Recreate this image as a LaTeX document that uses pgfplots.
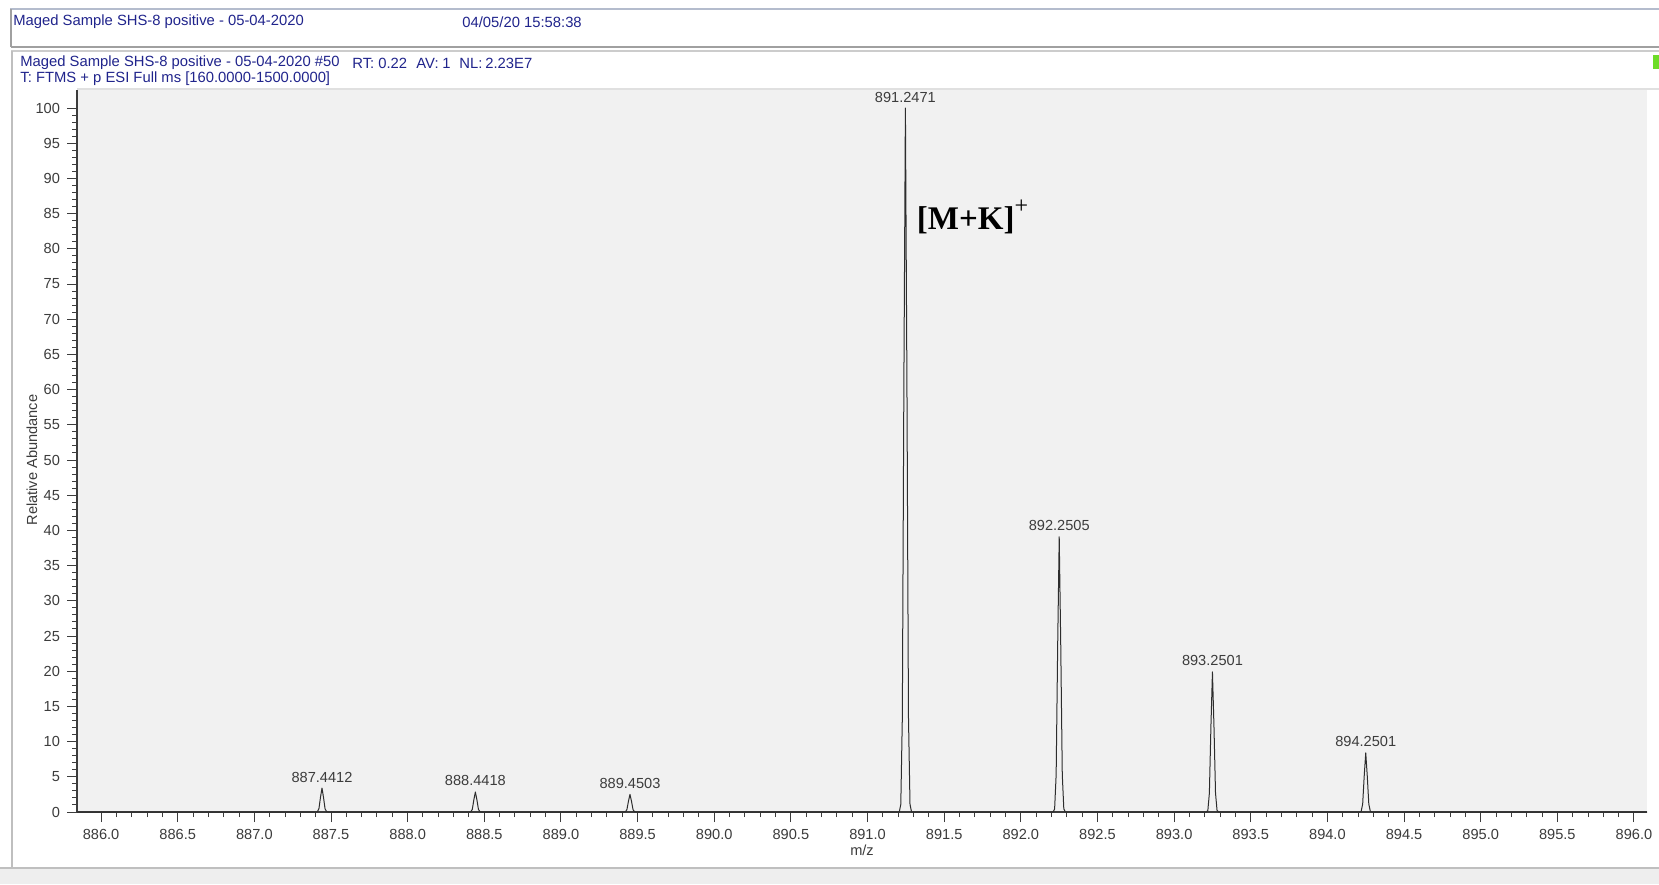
\documentclass[border=0pt]{standalone}
\usepackage{fontspec}
\setmainfont{Liberation Sans}
\newfontfamily\timesb{Liberation Serif}
\usepackage{pgfplots}
\pgfplotsset{compat=1.18}
\definecolor{navy}{RGB}{32,36,140}
\definecolor{tickgray}{RGB}{60,60,60}
\definecolor{plotbg}{RGB}{241,241,241}
\definecolor{framegray}{RGB}{160,160,160}
\definecolor{peakcol}{RGB}{45,45,45}
\definecolor{winbg}{RGB}{238,238,238}
\definecolor{greenmark}{RGB}{110,220,40}
\definecolor{topline}{RGB}{180,188,205}

\pgfplotstableread{
x y
885.843 0
887.4012 0
887.4112 0.04
887.4212 0.46
887.4312 2.06
887.4412 3.4
887.4512 2.06
887.4612 0.46
887.4712 0.04
887.4812 0
888.4018 0
888.4118 0.03
888.4218 0.38
888.4318 1.73
888.4418 2.85
888.4518 1.73
888.4618 0.38
888.4718 0.03
888.4818 0
889.4103 0
889.4203 0.03
889.4303 0.34
889.4403 1.52
889.4503 2.5
889.4603 1.52
889.4703 0.34
889.4803 0.03
889.4903 0
891.2071 0
891.2171 1.1
891.2271 13.5
891.2371 60.7
891.2471 100
891.2571 60.7
891.2671 13.5
891.2771 1.1
891.2871 0
892.2105 0
892.2205 0.43
892.2305 5.3
892.2405 23.7
892.2505 39.1
892.2605 23.7
892.2705 5.3
892.2805 0.43
892.2905 0
893.2101 0
893.2201 0.22
893.2301 2.69
893.2401 12.1
893.2501 19.9
893.2601 12.1
893.2701 2.69
893.2801 0.22
893.2901 0
894.2101 0
894.2201 0.09
894.2301 1.13
894.2401 5.1
894.2501 8.4
894.2601 5.1
894.2701 1.13
894.2801 0.09
894.2901 0
896.085 0
}\spectrum

\begin{document}
\begin{tikzpicture}
\begin{scope}[x=0.5pt,y=-0.5pt]
\path[use as bounding box] (0,0) rectangle (1659,884);
\fill[white] (0,0) rectangle (1659,884);
\draw[topline, line width=1pt] (10,9) -- (1659,9);
\draw[framegray, line width=0.6pt] (11,9) -- (11,47);
\draw[framegray, line width=1pt] (11,47) -- (1659,47);
\draw[black!20, line width=1pt] (11,51) -- (1659,51);
\draw[black!25, line width=1pt] (12,51) -- (12,868);
\draw[black!12, line width=0.6pt] (77,89) -- (1659,89);
\fill[winbg] (0,869) rectangle (1659,884);
\draw[black!25, line width=1pt] (0,868) -- (1659,868);
\fill[greenmark] (1653,55) rectangle (1659,69);
\begin{scope}[every node/.style={anchor=west, inner sep=0pt, text=navy, font=\fontsize{7.4}{9}\selectfont}]
\node at (13,22) {Maged Sample SHS-8 positive - 05-04-2020};
\node at (462,22) {04/05/20 15:58:38};
\node at (20,63) {Maged Sample SHS-8 positive - 05-04-2020 \#50};
\node at (352,63) {RT:};
\node at (378,63) {0.22};
\node at (416,63) {AV:};
\node at (442,63) {1};
\node at (459,63) {NL:};
\node at (485,63) {2.23E7};
\node at (20,79) {T: FTMS + p ESI Full ms [160.0000-1500.0000]};
\end{scope}
\end{scope}

\begin{axis}[
  at={(38.5pt,-406pt)}, anchor=south west,
  width=785pt, height=361pt, scale only axis,
  xmin=885.843, xmax=896.085, ymin=0, ymax=102.56,
  axis x line*=bottom, axis y line*=left,
  axis line style={tickgray, line width=0.8pt},
  axis background/.style={fill=plotbg},
  xtick={886,886.5,887,887.5,888,888.5,889,889.5,890,890.5,891,891.5,892,892.5,893,893.5,894,894.5,895,895.5,896},
  minor x tick num=4,
  ytick={0,5,10,15,20,25,30,35,40,45,50,55,60,65,70,75,80,85,90,95,100},
  minor y tick num=4,
  tick align=outside, major tick length=5pt, minor tick length=2.5pt,
  tick style={tickgray, line width=0.5pt},
  /pgf/number format/assume math mode=true,
  xticklabel style={/pgf/number format/.cd, fixed, fixed zerofill, precision=1, 1000 sep={}},
  tick label style={font=\fontsize{7.3}{8}\selectfont, text=tickgray},
  xlabel={m/z}, ylabel={Relative Abundance},
  every axis x label/.style={at={(axis description cs:0.5,-0.0526)}, anchor=center, font=\fontsize{7.3}{8}\selectfont, text=tickgray},
  every axis y label/.style={at={(axis description cs:-0.0287,0.4875)}, anchor=center, rotate=90, font=\fontsize{7.3}{8}\selectfont, text=tickgray},
  clip=false,
]
\addplot[peakcol, line width=0.5pt, line join=round] table[x=x,y=y] {\spectrum};
\begin{scope}[every node/.style={font=\fontsize{7.3}{8}\selectfont, text=tickgray, yshift=5.5pt, inner sep=0pt}]
\node at (axis cs:887.4412,3.4) {887.4412};
\node at (axis cs:888.4418,2.85) {888.4418};
\node at (axis cs:889.4503,2.5) {889.4503};
\node at (axis cs:891.2471,100) {891.2471};
\node at (axis cs:892.2505,39.1) {892.2505};
\node at (axis cs:893.2501,19.9) {893.2501};
\node at (axis cs:894.2501,8.4) {894.2501};
\end{scope}
\node[anchor=west, inner sep=0pt, font=\timesb\bfseries\fontsize{16.5}{18}\selectfont] at (axis cs:891.32,84.5) {[M+K]\raisebox{0.5em}{\mdseries\fontsize{12}{12}\selectfont +}};
\end{axis}
\end{tikzpicture}
\end{document}
